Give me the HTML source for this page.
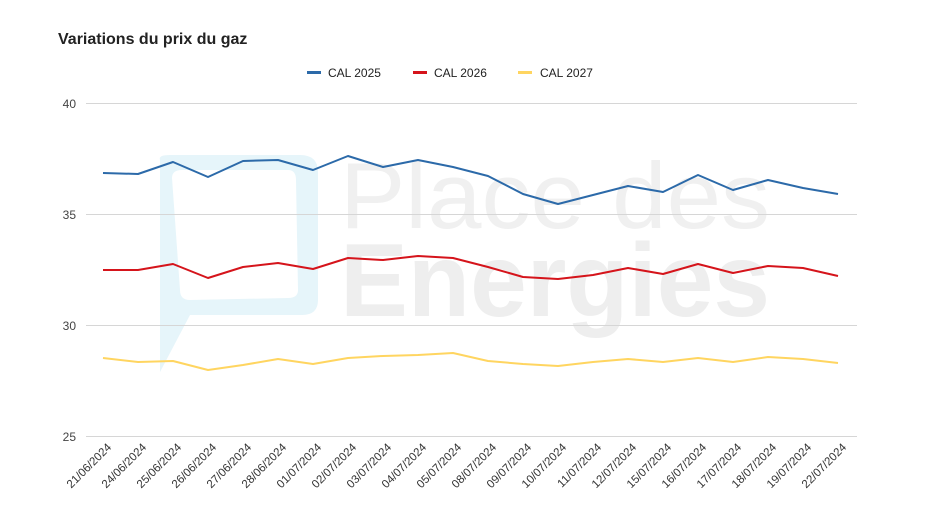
<!DOCTYPE html><html><head><style>body{margin:0;background:#fff}svg{display:block;font-family:"Liberation Sans",Arial,sans-serif}</style></head><body>
<svg width="936" height="526" viewBox="0 0 936 526" xmlns="http://www.w3.org/2000/svg">
<rect width="936" height="526" fill="#fff"/>
<path d="M160 160 Q158 155 170 155 L300 155 Q318 155 318 172 L318 300 Q318 315 302 315 L190 315 L160 372 Z" fill="#e6f5fa"/>
<path d="M172 178 Q172 170 182 170 L288 170 Q296 170 296 180 L298 290 Q298 298 288 298 L190 300 Q180 300 180 290 Z" fill="#fff"/>
<text x="340" y="228" font-size="94" fill="#f0f0f0" font-weight="300" textLength="430" lengthAdjust="spacingAndGlyphs">Place des</text>
<text x="340" y="316" font-size="104" fill="#eeeeee" font-weight="bold" textLength="430" lengthAdjust="spacingAndGlyphs">Energies</text>
<text x="58" y="44" font-size="16" font-weight="bold" fill="#222">Variations du prix du gaz</text>
<g font-size="12" fill="#222">
<rect x="307" y="71" width="14" height="3" fill="#2c6aa9"/><text x="328" y="77">CAL 2025</text>
<rect x="413" y="71" width="14" height="3" fill="#d5141b"/><text x="434" y="77">CAL 2026</text>
<rect x="518" y="71" width="14" height="3" fill="#ffd560"/><text x="540" y="77">CAL 2027</text>
</g>
<g stroke="#d6d6d6" stroke-width="1">
<line x1="86" x2="857" y1="103.5" y2="103.5"/><line x1="86" x2="857" y1="214.5" y2="214.5"/><line x1="86" x2="857" y1="325.5" y2="325.5"/><line x1="86" x2="857" y1="436.5" y2="436.5"/>
</g>
<g font-size="12" fill="#444" text-anchor="end">
<text x="76" y="108">40</text><text x="76" y="219">35</text><text x="76" y="330">30</text><text x="76" y="441">25</text>
</g>
<g fill="none" stroke-width="2" stroke-linejoin="round">
<polyline stroke="#ffd560" points="103,358 138,362 173,361 208,370 243,365 278,359 313,364 348,358 383,356 418,355 453,353 488,361 523,364 558,366 593,362 628,359 663,362 698,358 733,362 768,357 803,359 838,363"/>
<polyline stroke="#d5141b" points="103,270 138,270 173,264 208,278 243,267 278,263 313,269 348,258 383,260 418,256 453,258 488,267 523,277 558,279 593,275 628,268 663,274 698,264 733,273 768,266 803,268 838,276"/>
<polyline stroke="#2c6aa9" points="103,173 138,174 173,162 208,177 243,161 278,160 313,170 348,156 383,167 418,160 453,167 488,176 523,194 558,204 593,195 628,186 663,192 698,175 733,190 768,180 803,188 838,194"/>
</g>
<g font-size="11.5" fill="#333" text-anchor="end">
<text transform="translate(112,448) rotate(-45)">21/06/2024</text>
<text transform="translate(147,448) rotate(-45)">24/06/2024</text>
<text transform="translate(182,448) rotate(-45)">25/06/2024</text>
<text transform="translate(217,448) rotate(-45)">26/06/2024</text>
<text transform="translate(252,448) rotate(-45)">27/06/2024</text>
<text transform="translate(287,448) rotate(-45)">28/06/2024</text>
<text transform="translate(322,448) rotate(-45)">01/07/2024</text>
<text transform="translate(357,448) rotate(-45)">02/07/2024</text>
<text transform="translate(392,448) rotate(-45)">03/07/2024</text>
<text transform="translate(427,448) rotate(-45)">04/07/2024</text>
<text transform="translate(462,448) rotate(-45)">05/07/2024</text>
<text transform="translate(497,448) rotate(-45)">08/07/2024</text>
<text transform="translate(532,448) rotate(-45)">09/07/2024</text>
<text transform="translate(567,448) rotate(-45)">10/07/2024</text>
<text transform="translate(602,448) rotate(-45)">11/07/2024</text>
<text transform="translate(637,448) rotate(-45)">12/07/2024</text>
<text transform="translate(672,448) rotate(-45)">15/07/2024</text>
<text transform="translate(707,448) rotate(-45)">16/07/2024</text>
<text transform="translate(742,448) rotate(-45)">17/07/2024</text>
<text transform="translate(777,448) rotate(-45)">18/07/2024</text>
<text transform="translate(812,448) rotate(-45)">19/07/2024</text>
<text transform="translate(847,448) rotate(-45)">22/07/2024</text>
</g>
</svg>
</body></html>
